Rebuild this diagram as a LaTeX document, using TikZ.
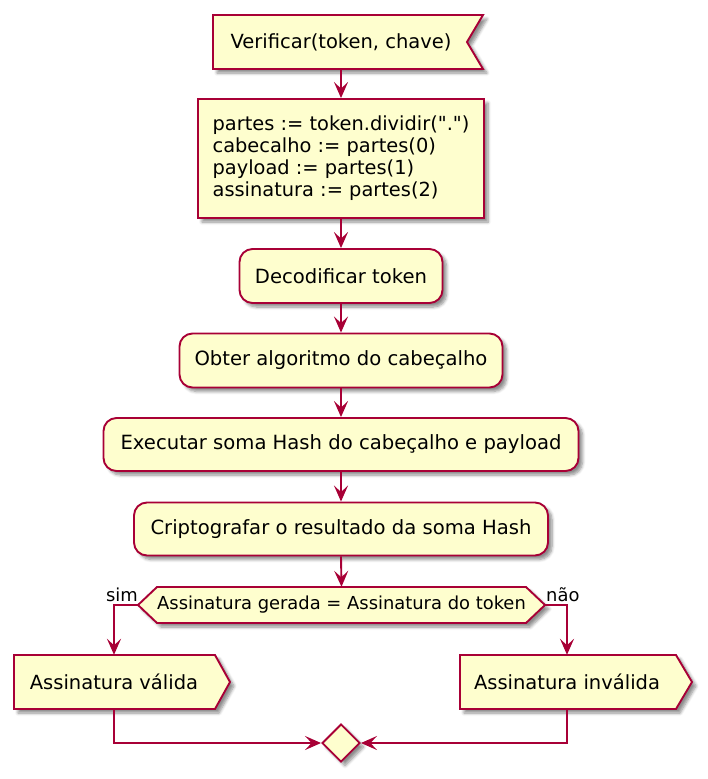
\documentclass[tikz,border=0pt]{standalone}
\usepackage{fontspec}
\setmainfont{DejaVu Sans}[Ligatures=TeXOff]
\usetikzlibrary{arrows.meta,shapes.geometric,shadows.blur}
\definecolor{puFill}{HTML}{FEFECE}
\definecolor{puLine}{HTML}{A80036}
\tikzset{
  shade/.style={blur shadow={shadow xshift=4pt, shadow yshift=-4pt, shadow blur radius=3pt, shadow blur steps=6, shadow opacity=45}},
  shapebox/.style={draw=puLine, fill=puFill, line width=1.9pt, line join=miter, shade},
  act/.style={shapebox, rounded corners=13pt, inner xsep=0pt, inner ysep=0pt, font=\fontsize{19.6}{22}\selectfont},
  plainbox/.style={shapebox, inner xsep=0pt, inner ysep=0pt, align=left, font=\fontsize{19.4}{22}\selectfont},
  txt/.style={inner sep=0pt, font=\fontsize{19.5}{22}\selectfont},
  qtxt/.style={inner sep=0pt, font=\fontsize{17.9}{20}\selectfont},
  lbl/.style={inner sep=0pt, font=\fontsize{17.9}{20}\selectfont},
  arr/.style={draw=puLine, line width=1.9pt, -{Stealth[length=16pt, width=14pt, inset=6.5pt]}},
  merge/.style={shapebox, diamond, minimum size=38pt, inner sep=0pt}
}
\begin{document}
\begin{tikzpicture}[x=1pt, y=-1pt]
\useasboundingbox (0,0) rectangle (708,779);
% custom-shaped boxes
\draw[shapebox] (213,15) -- (483,15) -- (467,42) -- (483,69) -- (213,69) -- cycle;
\draw[shapebox] (138,605) -- (157,587) -- (526,587) -- (545,605) -- (526,623) -- (157,623) -- cycle;
\draw[shapebox] (14,655) -- (215,655) -- (230,682) -- (215,709) -- (14,709) -- cycle;
\draw[shapebox] (460,655) -- (676,655) -- (692,682) -- (676,709) -- (460,709) -- cycle;
% nodes
\node[txt, minimum height=54pt] (v) at (341,42) {Verificar(token, chave)};
\node[plainbox, minimum width=286pt, minimum height=119pt] (p) at (341,158.5) {partes := token.dividir(".")\\cabecalho := partes(0)\\payload := partes(1)\\assinatura := partes(2)};
\node[act, minimum width=203pt, minimum height=54pt] (d) at (341,276) {Decodificar token};
\node[act, minimum width=323pt, minimum height=54pt] (o) at (341,360.5) {Obter algoritmo do cabeçalho};
\node[act, minimum width=475pt, minimum height=53pt] (e) at (341,444.5) {Executar soma Hash do cabeçalho e payload};
\node[act, minimum width=414pt, minimum height=53pt] (c) at (341,529) {Criptografar o resultado da soma Hash};
\node[qtxt, minimum height=36pt] (q) at (341.5,605) {Assinatura gerada = Assinatura do token};
\coordinate (qL) at (138,605);
\coordinate (qR) at (545,605);
\node[txt, minimum height=54pt] (va) at (114,682) {Assinatura válida};
\node[txt, minimum height=54pt] (vi) at (567,682) {Assinatura inválida};
\node[merge] (m) at (341,743) {};
\node[lbl, anchor=base east] (sim) at (138,601) {sim};
\node[lbl, anchor=base west] (nao) at (546,601) {não};
% connectors
\draw[arr] (v.south) -- (p.north);
\draw[arr] (p.south) -- (d.north);
\draw[arr] (d.south) -- (o.north);
\draw[arr] (o.south) -- (e.north);
\draw[arr] (e.south) -- (c.north);
\draw[arr] (c.south) -- (q.north);
\draw[arr] (qL) -| (va.north);
\draw[arr] (qR) -| (vi.north);
\draw[arr] (va.south) |- (m.west);
\draw[arr] (vi.south) |- (m.east);
\end{tikzpicture}
\end{document}
